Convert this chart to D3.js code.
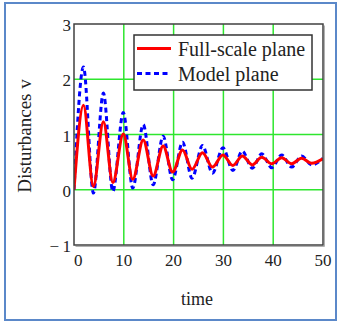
<!DOCTYPE html>
<html>
<head>
<meta charset="utf-8">
<script src="https://cdn.jsdelivr.net/npm/d3@7/dist/d3.min.js"></script>
<style>
  html, body { margin: 0; padding: 0; background: #fff; }
  svg text { font-family: 'Liberation Serif', 'Times New Roman', 'DejaVu Serif', serif; }
</style>
</head>
<body>
<svg id="chart" width="340" height="323"></svg>
<script>
// turning points (time, disturbance)
const time = [0, 1.9, 3.9, 5.9, 7.8, 9.9, 11.8, 13.9, 15.9, 17.9, 19.8, 21.8, 23.7,
  25.8, 27.8, 29.9, 31.9, 33.8, 35.8, 37.7, 39.7, 41.7, 43.7, 45.7, 47.7, 50];
const fullScale = [0, 1.53, 0.06, 1.23, 0.13, 1.01, 0.19, 0.9, 0.25, 0.79, 0.32, 0.72, 0.37,
  0.67, 0.41, 0.63, 0.44, 0.61, 0.45, 0.59, 0.47, 0.58, 0.47, 0.57, 0.48, 0.56];
const modelPlane = [0, 2.22, -0.06, 1.75, -0.03, 1.4, 0.03, 1.18, 0.09, 0.97, 0.18, 0.86, 0.21,
  0.8, 0.3, 0.76, 0.35, 0.7, 0.39, 0.65, 0.4, 0.63, 0.41, 0.61, 0.45, 0.57];
const xTicks = [0, 10, 20, 30, 40, 50];
const yTicks = [-1, 0, 1, 2, 3];
const seriesNames = ['Full-scale plane', 'Model plane'];

const serif = "'Liberation Serif', 'Times New Roman', 'DejaVu Serif', serif";
const svg = d3.select('#chart');
const margin = { top: 24, right: 17, bottom: 78, left: 74 };
const width = 340 - margin.left - margin.right;
const height = 323 - margin.top - margin.bottom;

// outer blue frame
svg.append('rect')
  .attr('x', 5).attr('y', 3).attr('width', 331).attr('height', 317)
  .attr('fill', 'none').attr('stroke', '#5b88c9').attr('stroke-width', 2);

const g = svg.append('g')
  .attr('transform', 'translate(' + margin.left + ',' + margin.top + ')');

const x = d3.scaleLinear().domain([0, 50]).range([0, width]);
const y = d3.scaleLinear().domain([-1, 3]).range([height, 0]);

// grid
g.append('g').selectAll('line')
  .data(xTicks.slice(1, -1))
  .enter().append('line')
  .attr('x1', d => x(d)).attr('x2', d => x(d))
  .attr('y1', 0).attr('y2', height)
  .attr('stroke', '#2ee62e').attr('stroke-width', 1.5);
g.append('g').selectAll('line')
  .data(yTicks.slice(1, -1))
  .enter().append('line')
  .attr('y1', d => y(d)).attr('y2', d => y(d))
  .attr('x1', 0).attr('x2', width)
  .attr('stroke', '#2ee62e').attr('stroke-width', 1.5);

g.append('clipPath').attr('id', 'clip')
  .append('rect').attr('width', width).attr('height', height);

const line = vals => d3.line()
  .x((d, i) => x(time[i]))
  .y(d => y(d))
  .curve(d3.curveMonotoneX)(vals);

const plot = g.append('g').attr('clip-path', 'url(#clip)');
plot.append('path')
  .attr('d', line(modelPlane))
  .attr('fill', 'none').attr('stroke', '#0000ff')
  .attr('stroke-width', 3).attr('stroke-dasharray', '5,3.5');
plot.append('path')
  .attr('d', line(fullScale))
  .attr('fill', 'none').attr('stroke', '#ff0000')
  .attr('stroke-width', 3);

// frame of the plot area
g.append('path')
  .attr('d', 'M' + (width + 1.5) + ',1.5V' + (height + 1.5) + 'H1.5')
  .attr('fill', 'none').attr('stroke', '#b0b0b0').attr('stroke-width', 1);
g.append('rect')
  .attr('width', width).attr('height', height)
  .attr('fill', 'none').attr('stroke', '#404040').attr('stroke-width', 1.5);

// tick labels
g.append('g').selectAll('text')
  .data(xTicks)
  .enter().append('text')
  .attr('x', d => x(d))
  .attr('y', height + 21)
  .attr('text-anchor', d => d === 0 ? 'start' : 'middle')
  .attr('font-family', serif)
  .attr('font-size', 17).attr('fill', '#222')
  .text(d => d);
g.append('g').selectAll('text')
  .data(yTicks)
  .enter().append('text')
  .attr('x', -3)
  .attr('y', d => y(d) + 7)
  .attr('text-anchor', 'end')
  .attr('font-family', serif)
  .attr('font-size', 17).attr('fill', '#222')
  .text(d => d < 0 ? '\u2212\u2009' + Math.abs(d) : d);

// axis titles
svg.append('text')
  .attr('transform', 'translate(31,136) rotate(-90)')
  .attr('text-anchor', 'middle')
  .attr('font-family', serif)
  .attr('font-size', 19).attr('fill', '#222')
  .text('Disturbances v');
svg.append('text')
  .attr('x', 197).attr('y', 305)
  .attr('text-anchor', 'middle')
  .attr('font-family', serif)
  .attr('font-size', 18).attr('fill', '#222')
  .text('time');

// legend
const legend = svg.append('g').attr('transform', 'translate(134,35)');
legend.append('rect')
  .attr('width', 178).attr('height', 55)
  .attr('fill', '#fff').attr('stroke', '#333').attr('stroke-width', 1.5);
const items = legend.selectAll('.item')
  .data(seriesNames)
  .enter().append('g')
  .attr('class', 'item')
  .attr('transform', (d, i) => 'translate(0,' + (13.5 + i * 25) + ')');
items.append('line')
  .attr('x1', 3).attr('x2', 37)
  .attr('stroke', (d, i) => i === 0 ? '#ff0000' : '#0000ff')
  .attr('stroke-width', 3)
  .attr('stroke-dasharray', (d, i) => i === 0 ? null : '5,3.5');
items.append('text')
  .attr('x', 44).attr('y', 7)
  .attr('font-family', serif)
  .attr('font-size', 20).attr('fill', '#222')
  .text(d => d);
</script>
</body>
</html>
